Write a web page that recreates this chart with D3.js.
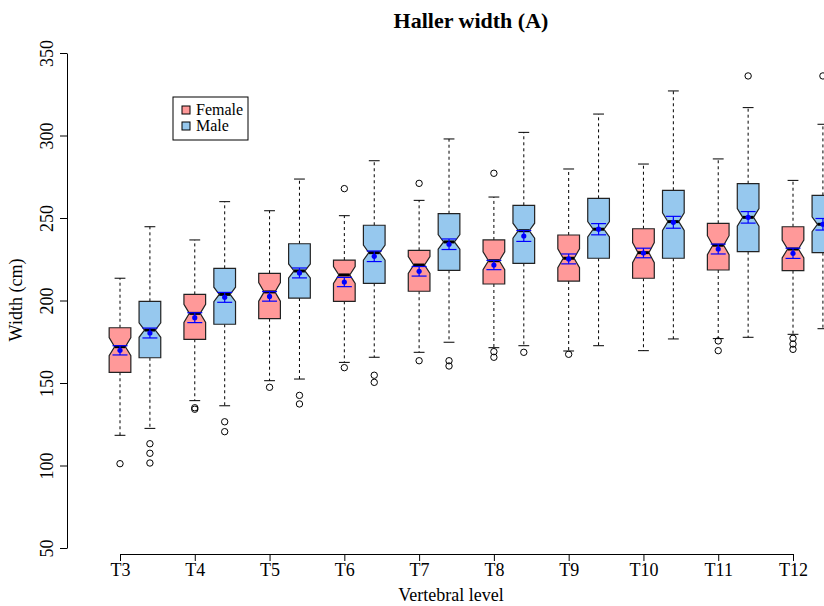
<!DOCTYPE html>
<html>
<head>
<meta charset="utf-8">
<script src="https://cdn.jsdelivr.net/npm/d3@7"></script>
<style>
  body { margin: 0; background: #fff; }
  svg { font-family: "Liberation Serif", "DejaVu Serif", serif; }
</style>
</head>
<body>
<script>
// vertebral levels on the x axis
const levels = ["T3", "T4", "T5", "T6", "T7", "T8", "T9", "T10", "T11", "T12"];
const yTicks = [50, 100, 150, 200, 250, 300, 350];

// Female boxes
const femaleLow    = [118.3, 139.3, 151.4, 162.5, 168.6, 171.4, 169.4, 169.6, 176.9, 179.5];
const femaleQ1     = [156.5, 176.5, 189.0, 199.5, 205.6, 210.0, 211.8, 213.5, 218.5, 218.1];
const femaleMedian = [172.0, 192.2, 205.2, 215.5, 221.5, 224.1, 225.6, 229.0, 233.5, 231.2];
const femaleQ3     = [183.5, 203.7, 216.5, 224.5, 230.4, 236.7, 239.7, 243.5, 246.8, 244.7];
const femaleHigh   = [213.5, 236.7, 254.4, 251.4, 260.7, 262.7, 279.7, 282.7, 285.8, 272.8];
const femaleMean   = [169.8, 189.6, 202.5, 211.2, 217.7, 221.5, 225.2, 228.8, 231.2, 228.6];
const femaleSE     = [2.8, 3.0, 2.9, 2.8, 2.9, 2.8, 3.0, 2.9, 3.0, 3.1];
const femaleOut    = [[101.1], [135.0, 134.1], [147.4], [267.8, 159.3], [271.0, 163.5],
                      [277.1, 169.0, 165.6], [167.4], [], [175.5, 169.6], [177.1, 173.6, 170.4]];
const femaleN = 60;

// Male boxes
const maleLow    = [122.5, 136.2, 152.4, 165.6, 174.7, 172.6, 172.6, 176.7, 177.7, 182.9];
const maleQ1     = [165.3, 185.6, 201.5, 210.4, 218.3, 222.5, 225.6, 225.6, 229.6, 229.0];
const maleMedian = [182.1, 203.7, 217.9, 229.0, 235.5, 242.3, 243.2, 247.8, 250.4, 246.2];
const maleQ3     = [199.5, 219.5, 234.4, 245.6, 252.6, 257.7, 261.9, 266.8, 270.8, 263.7];
const maleHigh   = [244.7, 259.9, 273.6, 284.7, 297.9, 301.9, 313.0, 327.0, 316.9, 306.8];
const maleMean   = [180.3, 201.9, 216.7, 226.8, 234.1, 239.1, 243.2, 247.4, 250.4, 246.2];
const maleSE     = [3.0, 3.0, 3.0, 3.2, 3.2, 3.3, 3.4, 3.6, 3.5, 3.5];
const maleOut    = [[113.2, 107.4, 101.5], [126.5, 120.5], [142.5, 137.3], [154.7, 150.4],
                    [163.5, 160.3], [168.6], [], [], [336.1], [336.1]];
const maleN = 150;

const width = 824, height = 606;
const marginLeft = 67, marginTop = 53, plotBottom = 548, axisY = 554;
const boxWidth = 0.29;   // in level units
const maleShift = 0.4;   // male box sits right of the tick
const femaleColor = "#FF9999", maleColor = "#96C8EE";
const axisFont = "18px";

const x = d3.scaleLinear().domain([3, 12]).range([120, 793]);
const y = d3.scaleLinear().domain([50, 350]).range([plotBottom, marginTop]);

function groups(low, q1, med, q3, high, mean, se, out, n, shift, fill) {
  return levels.map((lv, i) => ({
    pos: i + 3 + shift, low: low[i], q1: q1[i], med: med[i], q3: q3[i], high: high[i],
    mean: mean[i], se: se[i], out: out[i], n, fill
  }));
}

const boxes = groups(femaleLow, femaleQ1, femaleMedian, femaleQ3, femaleHigh, femaleMean, femaleSE, femaleOut, femaleN, 0, femaleColor)
  .concat(groups(maleLow, maleQ1, maleMedian, maleQ3, maleHigh, maleMean, maleSE, maleOut, maleN, maleShift, maleColor));

const svg = d3.select("body").append("svg")
    .attr("width", width)
    .attr("height", height)
    .attr("viewBox", [0, 0, width, height]);

const g = svg.append("g").selectAll("g")
  .data(boxes)
  .join("g");

const hw = d => (x(d.pos + boxWidth / 2) - x(d.pos - boxWidth / 2)) / 2;

// whiskers (dashed) + staples
g.append("line")
    .attr("x1", d => x(d.pos)).attr("x2", d => x(d.pos))
    .attr("y1", d => y(d.q3)).attr("y2", d => y(d.high))
    .attr("stroke", "#000").attr("stroke-dasharray", "3,3");
g.append("line")
    .attr("x1", d => x(d.pos)).attr("x2", d => x(d.pos))
    .attr("y1", d => y(d.q1)).attr("y2", d => y(d.low))
    .attr("stroke", "#000").attr("stroke-dasharray", "3,3");
g.append("line")
    .attr("x1", d => x(d.pos) - hw(d) / 2).attr("x2", d => x(d.pos) + hw(d) / 2)
    .attr("y1", d => y(d.high)).attr("y2", d => y(d.high))
    .attr("stroke", "#000");
g.append("line")
    .attr("x1", d => x(d.pos) - hw(d) / 2).attr("x2", d => x(d.pos) + hw(d) / 2)
    .attr("y1", d => y(d.low)).attr("y2", d => y(d.low))
    .attr("stroke", "#000");

// notched box, notch = median +/- 1.58 IQR / sqrt(n)
g.append("path")
    .attr("d", d => {
      const cx = x(d.pos), w = hw(d);
      const nc = 1.58 * (d.q3 - d.q1) / Math.sqrt(d.n);
      const pts = [
        [cx - w, y(d.q3)], [cx + w, y(d.q3)], [cx + w, y(d.med + nc)], [cx + w / 2, y(d.med)],
        [cx + w, y(d.med - nc)], [cx + w, y(d.q1)], [cx - w, y(d.q1)], [cx - w, y(d.med - nc)],
        [cx - w / 2, y(d.med)], [cx - w, y(d.med + nc)]
      ];
      return "M" + pts.join("L") + "Z";
    })
    .attr("fill", d => d.fill)
    .attr("stroke", "#222")
    .attr("stroke-width", 1.2);

// median
g.append("line")
    .attr("x1", d => x(d.pos) - hw(d) / 2).attr("x2", d => x(d.pos) + hw(d) / 2)
    .attr("y1", d => y(d.med)).attr("y2", d => y(d.med))
    .attr("stroke", "#000").attr("stroke-width", 3);

// mean +/- se in blue
const capHalf = 7.5;
g.append("line")
    .attr("x1", d => x(d.pos)).attr("x2", d => x(d.pos))
    .attr("y1", d => y(d.mean - d.se)).attr("y2", d => y(d.mean + d.se))
    .attr("stroke", "#0000FF").attr("stroke-width", 1.2);
g.append("line")
    .attr("x1", d => x(d.pos) - capHalf).attr("x2", d => x(d.pos) + capHalf)
    .attr("y1", d => y(d.mean + d.se)).attr("y2", d => y(d.mean + d.se))
    .attr("stroke", "#0000FF").attr("stroke-width", 1.2);
g.append("line")
    .attr("x1", d => x(d.pos) - capHalf).attr("x2", d => x(d.pos) + capHalf)
    .attr("y1", d => y(d.mean - d.se)).attr("y2", d => y(d.mean - d.se))
    .attr("stroke", "#0000FF").attr("stroke-width", 1.2);
g.append("circle")
    .attr("cx", d => x(d.pos)).attr("cy", d => y(d.mean))
    .attr("r", 2.6).attr("fill", "#0000FF");

// outliers
g.selectAll(".out")
  .data(d => d.out.map(v => ({pos: d.pos, v})))
  .join("circle")
    .attr("class", "out")
    .attr("cx", d => x(d.pos)).attr("cy", d => y(d.v))
    .attr("r", 3.2).attr("fill", "none").attr("stroke", "#000");

// axes
const yAxis = d3.axisLeft(y).tickValues(yTicks).tickSize(7).tickSizeOuter(0);
svg.append("g")
    .attr("transform", `translate(${marginLeft},0)`)
    .call(yAxis)
    .call(a => a.select(".domain").attr("stroke", "#000"))
    .call(a => a.selectAll(".tick text")
        .attr("transform", "rotate(-90)")
        .attr("x", 0).attr("y", -14).attr("dy", 0)
        .attr("text-anchor", "middle")
        .attr("fill", "#000")
        .style("font-size", axisFont)
        .style("font-family", "Liberation Serif"));

const xAxis = d3.axisBottom(x).tickValues(d3.range(3, 13)).tickFormat(v => levels[v - 3])
    .tickSize(7).tickSizeOuter(0).tickPadding(2);
svg.append("g")
    .attr("transform", `translate(0,${axisY})`)
    .call(xAxis)
    .call(a => a.selectAll(".tick text")
        .attr("fill", "#000")
        .style("font-size", axisFont)
        .style("font-family", "Liberation Serif"));

// labels
svg.append("text")
    .attr("x", 471).attr("y", 28)
    .attr("text-anchor", "middle")
    .style("font-size", "22px").style("font-weight", "bold")
    .text("Haller width (A)");
svg.append("text")
    .attr("x", 451).attr("y", 601)
    .attr("text-anchor", "middle")
    .style("font-size", axisFont)
    .text("Vertebral level");
svg.append("text")
    .attr("transform", "translate(22,300) rotate(-90)")
    .attr("text-anchor", "middle")
    .style("font-size", axisFont)
    .text("Width (cm)");

// legend
const legend = svg.append("g");
legend.append("rect")
    .attr("x", 173).attr("y", 97).attr("width", 75).attr("height", 43)
    .attr("fill", "#fff").attr("stroke", "#000");
[["Female", femaleColor], ["Male", maleColor]].forEach(([name, col], i) => {
  legend.append("rect")
      .attr("x", 182).attr("y", 106 + i * 16).attr("width", 8).attr("height", 8)
      .attr("fill", col).attr("stroke", "#000");
  legend.append("text")
      .attr("x", 196).attr("y", 115 + i * 16)
      .style("font-size", "16px")
      .text(name);
});
</script>
</body>
</html>
